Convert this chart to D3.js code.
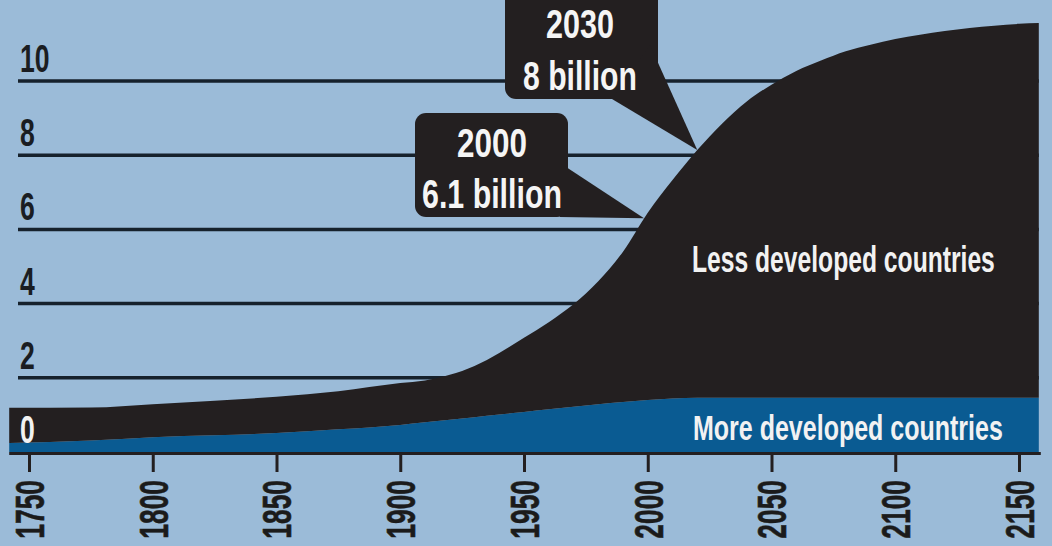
<!DOCTYPE html>
<html>
<head>
<meta charset="utf-8">
<script src="https://cdn.jsdelivr.net/npm/d3@7"></script>
<style>
  html, body { margin: 0; padding: 0; background: #9bbbd8; overflow: hidden; }
  svg { display: block; }
  text { font-family: "Liberation Sans", Arial, sans-serif; font-weight: bold; }
</style>
</head>
<body>
<div id="chart"></div>
<script>
// Population in billions
const years = [1742, 1775, 1800, 1825, 1850, 1875, 1900, 1910, 1920, 1930, 1940, 1950, 1960, 1970,
  1980, 1990, 2000, 2010, 2020, 2030, 2040, 2050, 2060, 2070, 2080, 2090, 2100, 2110, 2120, 2130,
  2140, 2150, 2158];
const moreDeveloped = [0.24, 0.31, 0.40, 0.45, 0.51, 0.61, 0.73, 0.80, 0.87, 0.94, 1.01, 1.08, 1.15, 1.22,
  1.29, 1.35, 1.40, 1.44, 1.46, 1.46, 1.46, 1.46, 1.46, 1.46, 1.46, 1.46, 1.46, 1.46, 1.46, 1.46,
  1.46, 1.46, 1.46];
const lessDeveloped = [0.95, 0.89, 0.89, 0.93, 0.98, 1.03, 1.13, 1.13, 1.21, 1.38, 1.66, 2.00, 2.35, 2.76,
  3.31, 4.05, 5.05, 5.89, 6.68, 7.39, 7.99, 8.44, 8.81, 9.09, 9.34, 9.52, 9.67, 9.79, 9.89, 9.97,
  10.03, 10.08, 10.10];

const yTicks = [0, 2, 4, 6, 8, 10];
const xTicks = [1750, 1800, 1850, 1900, 1950, 2000, 2050, 2100, 2150];

const seriesLabels = ["More developed countries", "Less developed countries"];
const callouts = [
  { lines: ["2030", "8 billion"], year: 2020, value: 8.14 },
  { lines: ["2000", "6.1 billion"], year: 1998.5, value: 6.3 }
];

const W = 1052, H = 546;
const colors = { more: "#0a5b92", less: "#231f20", grid: "#16212c", bg: "#9bbbd8" };

const x = d3.scaleLinear().domain([1750, 2150]).range([29, 1019]);
const y = d3.scaleLinear().domain([0, 10]).range([452, 81]);

const svg = d3.select("#chart").append("svg").attr("width", W).attr("height", H);
svg.append("rect").attr("width", W).attr("height", H).attr("fill", colors.bg);

// horizontal grid lines (hidden behind the area on the right)
svg.append("g")
  .selectAll("line")
  .data(yTicks.filter(d => d > 0))
  .join("line")
  .attr("x1", 18)
  .attr("x2", x(d3.max(years)))
  .attr("y1", d => y(d))
  .attr("y2", d => y(d))
  .attr("stroke", colors.grid)
  .attr("stroke-width", 3.5);

// stacked areas
const rows = years.map((yr, i) => ({ year: yr, more: moreDeveloped[i], less: lessDeveloped[i] }));
const stacked = d3.stack().keys(["more", "less"])(rows);
const area = d3.area()
  .x(d => x(d.data.year))
  .y0(d => y(d[0]))
  .y1(d => y(d[1]))
  .curve(d3.curveMonotoneX);

svg.append("g")
  .selectAll("path")
  .data(stacked)
  .join("path")
  .attr("d", area)
  .attr("fill", d => colors[d.key]);

// dark base line under the blue band
svg.append("line")
  .attr("x1", x(d3.min(years)))
  .attr("x2", x(d3.max(years)) + 2)
  .attr("y1", y(0) + 1.5)
  .attr("y2", y(0) + 1.5)
  .attr("stroke", colors.less)
  .attr("stroke-width", 3);

// x axis: ticks and rotated year labels
const xAxis = svg.append("g")
  .attr("transform", `translate(0,${y(0) + 3})`)
  .call(d3.axisBottom(x).tickValues(xTicks).tickFormat(d3.format("d")).tickSize(17));
xAxis.select(".domain").remove();
xAxis.selectAll(".tick line").attr("stroke", colors.less).attr("stroke-width", 3);
xAxis.selectAll(".tick text")
  .attr("x", 0)
  .attr("y", 0)
  .attr("dy", "0.36em")
  .attr("text-anchor", "end")
  .attr("fill", "#1b1b1b")
  .attr("stroke", "#1b1b1b")
  .attr("stroke-width", 0.6)
  .style("font-size", "40px")
  .attr("transform", "translate(0,25) rotate(-90) scale(0.66,1)");

// y labels sitting on the grid lines
svg.append("g")
  .selectAll("text")
  .data(yTicks)
  .join("text")
  .attr("transform", d => `translate(20,${y(d) - 9}) scale(0.7,1)`)
  .attr("fill", d => d === 0 ? "#f2f2f2" : "#1a1d22")
  .style("font-size", "38px")
  .text(d => d);

// helper: squeeze text horizontally to a target width
function placeFitted(g, str, cx, base, size, width, fill, anchor) {
  const t = g.append("text")
    .attr("text-anchor", anchor || "middle")
    .attr("fill", fill)
    .style("font-size", size + "px")
    .text(str);
  const s = width / t.node().getComputedTextLength();
  t.attr("transform", `translate(${cx},${base}) scale(${s},1)`);
  return t;
}

// callouts
const boxes = [
  { x: 505, y: -20, w: 153, h: 119, ptr: [[650, 45], [612, 99]], cx: 580, bases: [38, 90], widths: [68, 114] },
  { x: 415, y: 113, w: 153, h: 104, ptr: [[560, 163], [560, 217]], cx: 492, bases: [157, 208], widths: [70, 140] }
];
const cg = svg.append("g");
callouts.forEach((c, i) => {
  const b = boxes[i];
  cg.append("rect")
    .attr("x", b.x).attr("y", b.y).attr("width", b.w).attr("height", b.h)
    .attr("rx", 11).attr("fill", colors.less);
  cg.append("path")
    .attr("d", d3.line()([...b.ptr, [x(c.year), y(c.value)]]) + "Z")
    .attr("fill", colors.less);
  c.lines.forEach((ln, j) => placeFitted(cg, ln, b.cx, b.bases[j], 40, b.widths[j], "#f5f5f5"));
});

// series labels
const lg = svg.append("g");
placeFitted(lg, seriesLabels[1], 692, 272, 36, 303, "#f2f2f2", "start");
placeFitted(lg, seriesLabels[0], 693, 440, 36, 310, "#f2f2f2", "start");
</script>
</body>
</html>
